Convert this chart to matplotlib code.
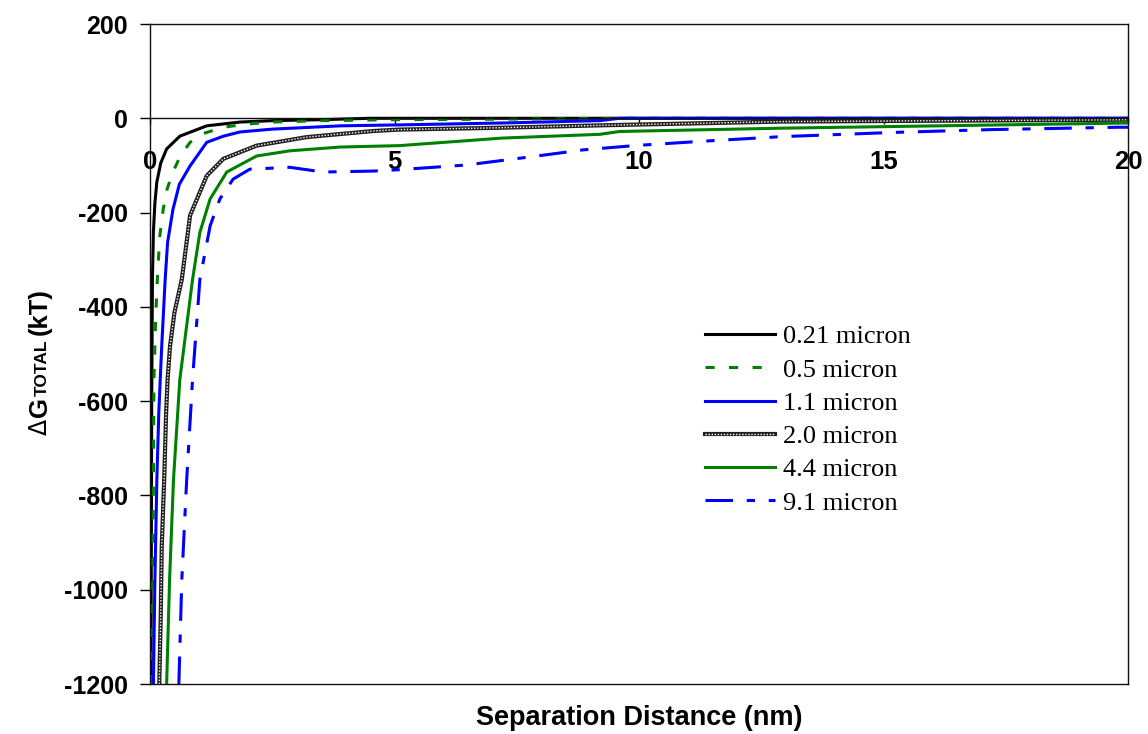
import matplotlib
matplotlib.use("Agg")
import matplotlib.pyplot as plt
from matplotlib.lines import Line2D
from matplotlib.legend_handler import HandlerTuple

# ---- data ----
x_021 = [0.02, 0.035, 0.05, 0.07, 0.1, 0.14, 0.22, 0.34, 0.61, 1.16, 1.84, 2.5, 3.5, 4.5, 20]
y_021 = [-1200, -600, -340, -240, -180, -135, -95, -65, -38, -16, -8, -5, -3, 0, 0]

x_05 = [0.04, 0.07, 0.08, 0.12, 0.15, 0.2, 0.27, 0.35, 0.47, 0.62, 0.82, 1.1, 1.5, 2.0, 2.5, 3.5, 5.0, 7.0, 9.5, 20]
y_05 = [-1200, -767, -554, -412, -342, -250, -193, -150, -114, -80, -51, -32, -19, -12, -8, -5, -3, -2, 0, 0]

x_11 = [0.07, 0.1, 0.14, 0.18, 0.24, 0.31, 0.36, 0.47, 0.6, 0.82, 1.16, 1.5, 1.84, 2.5, 3.9, 5.1, 7.2, 9.2, 9.6, 20]
y_11 = [-1200, -980, -767, -624, -483, -342, -263, -193, -140, -101, -51, -38, -29, -23, -16, -14, -10, -5, 0, 0]

x_20 = [0.19, 0.22, 0.24, 0.29, 0.33, 0.36, 0.41, 0.5, 0.65, 0.82, 1.16, 1.5, 2.18, 3.2, 4.56, 5.1, 7.2, 9.2, 12.9, 20]
y_20 = [-1200, -1053, -909, -767, -624, -554, -483, -412, -342, -206, -122, -86, -58, -40, -27, -24, -20, -15, -7, -3]

x_44 = [0.34, 0.4, 0.48, 0.61, 0.87, 1.02, 1.23, 1.57, 2.18, 2.86, 3.89, 5.1, 7.2, 9.2, 9.6, 12.9, 20]
y_44 = [-1200, -980, -767, -554, -342, -242, -171, -114, -80, -69, -61, -58, -42, -34, -28, -21, -10]

x_91 = [0.59, 0.65, 0.75, 0.87, 1.02, 1.23, 1.43, 1.7, 2.04, 2.86, 3.54, 4.56, 5.1, 6.48, 7.84, 8.86,
        9.9, 11.25, 12.9, 15.2, 17.2, 19.8, 20]
y_91 = [-1200, -980, -767, -554, -342, -228, -171, -129, -108, -104, -114, -112, -109, -99, -81, -67,
        -58, -49, -39, -30, -24, -19, -19]

labels = ["0.21 micron", "0.5 micron", "1.1 micron", "2.0 micron", "4.4 micron", "9.1 micron"]
x_ticks = [0, 5, 10, 15, 20]
y_ticks = [-1200, -1000, -800, -600, -400, -200, 0, 200]

GREEN = "#008000"
BLUE = "#0000FF"
SANS = "Liberation Sans"
SERIF = "Liberation Serif"

fig = plt.figure(figsize=(11.48, 7.34), dpi=100)
W, H = 1148, 734
ax = fig.add_axes([150 / W, 1 - 684 / H, (1128 - 150) / W, (684 - 24) / H])

lw = 2.2
l1, = ax.plot(x_021, y_021, color="black", lw=lw, solid_joinstyle="round")
l2, = ax.plot(x_05, y_05, color=GREEN, lw=lw, linestyle=(0, (3, 4.7)))
l3, = ax.plot(x_11, y_11, color=BLUE, lw=lw)
l4a, = ax.plot(x_20, y_20, color="#202020", lw=3.0)
l4b, = ax.plot(x_20, y_20, color="white", lw=1.0, linestyle=(0, (1, 1.2)))
l5, = ax.plot(x_44, y_44, color=GREEN, lw=lw)
l6, = ax.plot(x_91, y_91, color=BLUE, lw=lw, linestyle=(0, (9, 4.5, 2.7, 4.5)))

# x axis drawn at y = 0, frame closed at the bottom
ax.spines["bottom"].set_position(("data", 0))
for s in ax.spines.values():
    s.set_linewidth(1.0)
    s.set_color("#111111")
ax.add_line(Line2D([0, 1], [0, 0], transform=ax.transAxes, color="#111111", lw=1.0, clip_on=False))

ax.set_xlim(0, 20)
ax.set_ylim(-1200, 200)
ax.set_xticks(x_ticks)
ax.set_yticks(y_ticks)
ax.tick_params(axis="y", direction="out", length=7, width=1.0, pad=9, labelsize=18)
ax.tick_params(axis="x", direction="out", length=4, width=1.0, pad=19, labelsize=18.5)
ax.set_xticklabels([str(v) for v in x_ticks])
ax.set_yticklabels([str(v) for v in y_ticks])
for lab in ax.get_xticklabels() + ax.get_yticklabels():
    lab.set_fontfamily(SANS)
    lab.set_fontweight("bold")

fig.text(0.5 * (150 + 1128) / W, 1 - 718 / H, "Separation Distance (nm)", ha="center", va="center",
         fontfamily=SANS, fontweight="bold", fontsize=19.5)

# y label: ΔG(TOTAL)(kT) with small-caps TOTAL, built from pieces
fig.canvas.draw()
renderer = fig.canvas.get_renderer()
pieces = [("\u0394", "DejaVu Sans", "normal", 17, 2),
          ("G", SANS, "bold", 18.5, 1),
          ("TOTAL", SANS, "bold", 12.5, 4),
          ("(kT)", SANS, "bold", 18.5, 0)]
ypix = 435
xbase = 47
for txt, fam, wt, sz, gap in pieces:
    t = fig.text(xbase / W, 1 - ypix / H, txt, rotation=90, rotation_mode="anchor",
                 ha="left", va="baseline", fontfamily=fam, fontweight=wt, fontsize=sz)
    bb = t.get_window_extent(renderer)
    ypix -= bb.height + gap

leg = ax.legend([l1, l2, l3, (l4a, l4b), l5, l6], labels,
                handler_map={tuple: HandlerTuple(ndivide=1)},
                loc="upper left", bbox_to_anchor=((705 - 150) / 978, (684 - 325) / 660),
                frameon=False, borderpad=0, borderaxespad=0,
                handlelength=2.65, handletextpad=0.3, labelspacing=0.37,
                prop={"family": SERIF, "size": 19})

fig.savefig("out.png", dpi=100)
